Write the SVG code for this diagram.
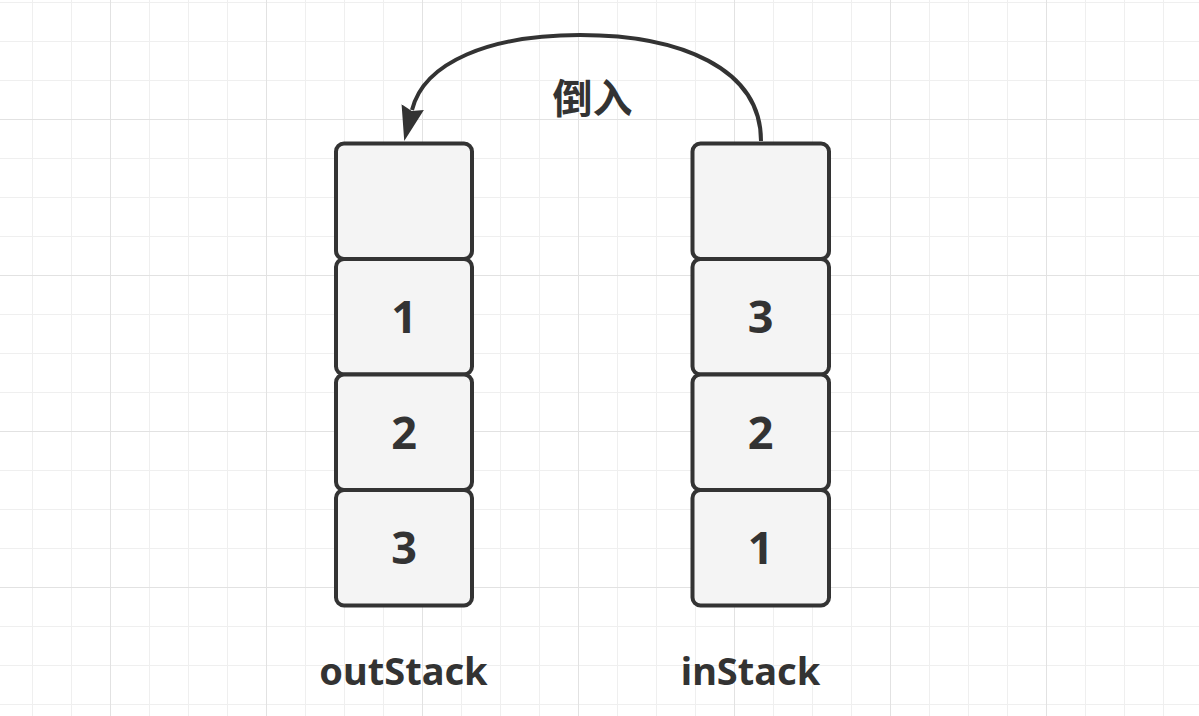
<svg xmlns="http://www.w3.org/2000/svg" width="1199" height="716" viewBox="0 0 1199 716">
  <defs>
    <style>
      .minor { stroke: #efefef; stroke-width: 1; fill: none; }
      .major { stroke: #e2e2e2; stroke-width: 1; fill: none; }
      .cell { fill: #f4f4f4; stroke: #333333; stroke-width: 4; }
      .num { font-family: "Comic Sans MS", "Noto Sans", "DejaVu Sans", sans-serif; font-weight: bold; font-size: 45px; fill: #333333; text-anchor: middle; }
      .lbl { font-family: "Comic Sans MS", "Noto Sans", "DejaVu Sans", sans-serif; font-weight: bold; font-size: 38px; fill: #333333; text-anchor: middle; }
      .edge { fill: none; stroke: #333333; stroke-width: 4; }
      .elbl { font-family: "Noto Sans CJK SC", "Noto Sans", sans-serif; font-weight: bold; font-size: 40px; fill: #333333; text-anchor: middle; }
    </style>
    <marker id="arrow" markerUnits="userSpaceOnUse" orient="auto" markerWidth="40" markerHeight="30" refX="3" refY="12" viewBox="0 0 40 24">
      <path d="M35 12 L0 0.5 L4 12 L0 23.5 Z" fill="#333333"/>
    </marker>
  </defs>

  <rect x="0" y="0" width="1199" height="716" fill="#ffffff"/>

  <g id="grid">
    <path class="minor" d="M32.5 0V716M71.5 0V716M149.5 0V716M188.5 0V716M227.5 0V716M305.5 0V716M344.5 0V716M383.5 0V716M461.5 0V716M500.5 0V716M539.5 0V716M617.5 0V716M656.5 0V716M695.5 0V716M773.5 0V716M812.5 0V716M851.5 0V716M929.5 0V716M968.5 0V716M1007.5 0V716M1085.5 0V716M1124.5 0V716M1163.5 0V716"/>
    <path class="minor" d="M0 2.5H1199M0 41.5H1199M0 80.5H1199M0 158.5H1199M0 197.5H1199M0 236.5H1199M0 314.5H1199M0 353.5H1199M0 392.5H1199M0 470.5H1199M0 509.5H1199M0 548.5H1199M0 626.5H1199M0 665.5H1199M0 704.5H1199"/>
    <path class="major" d="M110.5 0V716M266.5 0V716M422.5 0V716M578.5 0V716M734.5 0V716M890.5 0V716M1046.5 0V716"/>
    <path class="major" d="M0 119.5H1199M0 275.5H1199M0 431.5H1199M0 587.5H1199"/>
  </g>

  <g id="outStack">
    <g id="out-0"><rect class="cell" x="336" y="143.5" width="136" height="115.5" rx="8"/></g>
    <g id="out-1"><rect class="cell" x="336" y="259" width="136" height="115.5" rx="8"/><text class="num" x="404" y="333">1</text></g>
    <g id="out-2"><rect class="cell" x="336" y="374.5" width="136" height="115.5" rx="8"/><text class="num" x="404" y="448.5">2</text></g>
    <g id="out-3"><rect class="cell" x="336" y="490" width="136" height="115.5" rx="8"/><text class="num" x="404" y="564">3</text></g>
    <text class="lbl" x="403.5" y="685">outStack</text>
  </g>

  <g id="inStack">
    <g id="in-0"><rect class="cell" x="692.5" y="143.5" width="136.5" height="115.5" rx="8"/></g>
    <g id="in-1"><rect class="cell" x="692.5" y="259" width="136.5" height="115.5" rx="8"/><text class="num" x="760.5" y="333">3</text></g>
    <g id="in-2"><rect class="cell" x="692.5" y="374.5" width="136.5" height="115.5" rx="8"/><text class="num" x="760.5" y="448.5">2</text></g>
    <g id="in-3"><rect class="cell" x="692.5" y="490" width="136.5" height="115.5" rx="8"/><text class="num" x="760.5" y="564">1</text></g>
    <text class="lbl" x="750.5" y="685">inStack</text>
  </g>

  <g id="connectors">
    <path class="edge" d="M761 141 C761 68 680 35 580 35 C490 35 424 62 412 110" marker-end="url(#arrow)"/>
    <text class="elbl" x="592.5" y="113">倒入</text>
  </g>
</svg>
